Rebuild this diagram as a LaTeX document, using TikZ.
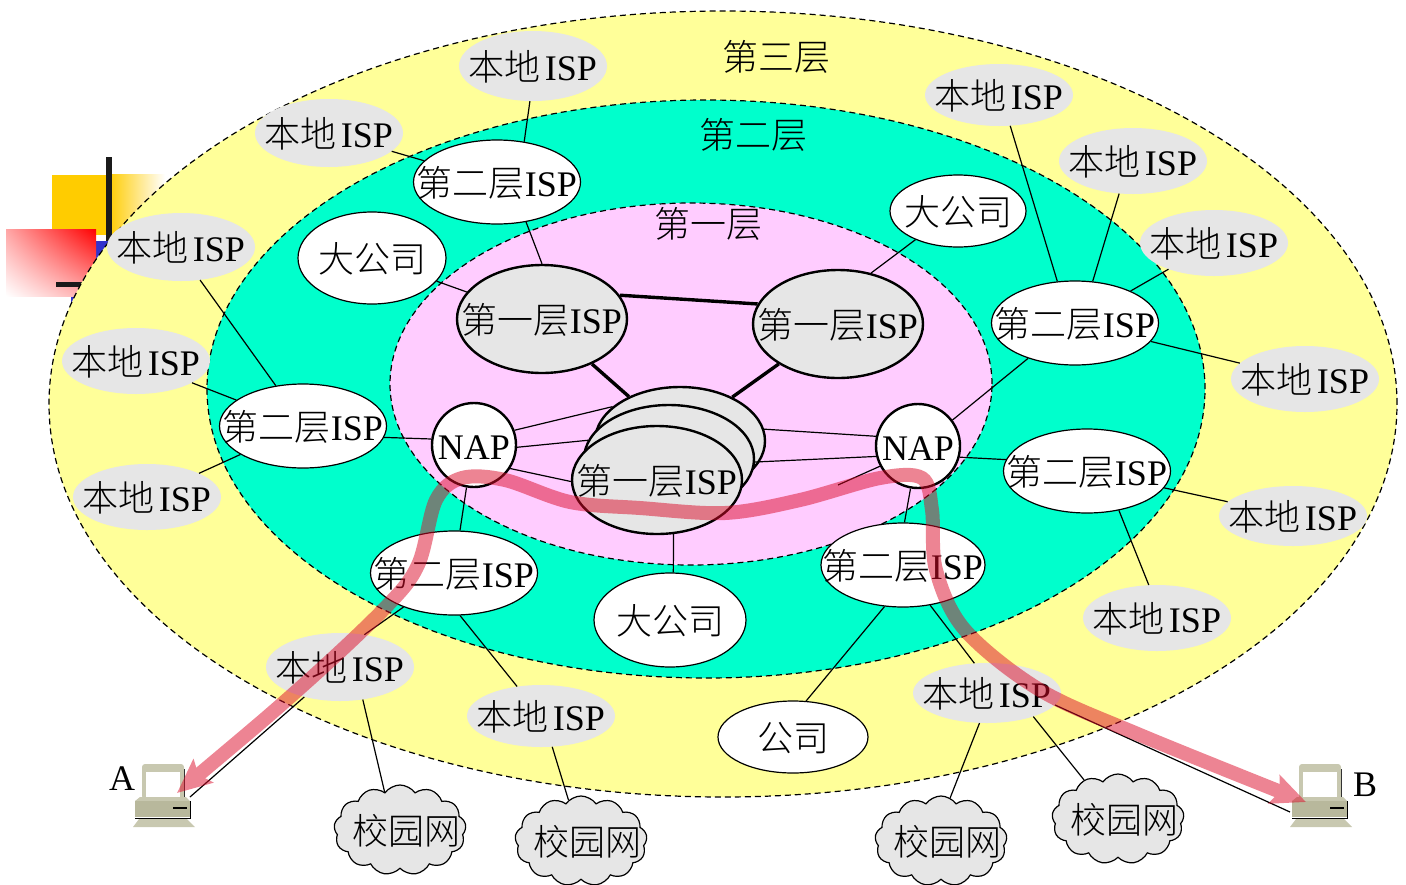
\documentclass[tikz,border=0pt]{standalone}
\usepackage{fontspec}
\setmainfont{Liberation Serif}
\newfontfamily\cjk[UprightFont=* Light]{Noto Sans CJK SC}
\usetikzlibrary{
	shapes.geometric,
	shapes.symbols,
	shadings,
	arrows.meta,
	positioning
}
\newcommand{\zh}[1]{{\cjk #1}}
% text that does not widen its shape
\newcommand{\snug}[1]{\raisebox{-.40em}[0pt][0pt]{\makebox[0pt]{#1}}}
\newcommand{\localisp}{\snug{\zh{本地}\hspace{4pt}ISP}}
\newcommand{\tiertwo}{\snug{\zh{第二层}ISP}}
\newcommand{\tierone}{\snug{\zh{第一层}ISP}}
\newcommand{\campus}{\snug{\hspace{12pt}\zh{校园网}}}
\definecolor{band3}{HTML}{FFFF99}
\definecolor{band2}{HTML}{00FFCC}
\definecolor{band1}{HTML}{FFCCFF}
\definecolor{soft}{HTML}{E6E6E6}
\definecolor{gold}{HTML}{FFCC00}
\definecolor{deco}{HTML}{3333CC}
\definecolor{ink}{HTML}{1A1A1A}
\definecolor{pcbody}{HTML}{B8B89C}
\definecolor{pclight}{HTML}{C8C8B0}
\definecolor{routered}{HTML}{DC0A28}
\tikzset{
	pics/pcbox/.style={code={
		\fill[pclight, rounded corners=3pt] (-21,-33) rectangle (21,2);
		\fill[white] (-17,-25) rectangle (17,0);
		\draw[black!80, line width=1pt] (21,-28) -- (21,0);
		\fill[pclight] (-23,0) -- (23,0) -- (27,4) -- (-28,4) -- cycle;
		\fill[pcbody] (-28,4) rectangle (27,20);
		\draw[black, line width=1pt] (-28,21) -- (27,21) -- (27,4);
		\fill[black] (10,10) rectangle (24,12);
		\fill[pclight] (-24,22) -- (24,22) -- (32,30) -- (-30,30) -- cycle;
		\coordinate (-right) at (27,0);
		\coordinate (-left) at (-30,15);
	}}
}
\begin{document}
\begin{tikzpicture}[x=1pt, y=-1pt, font=\fontsize{36}{40}\selectfont,
	band/.style={draw, dash pattern=on 6pt off 4pt, ellipse, inner sep=0pt, line width=1.2pt},
	locisp/.style={ellipse, fill=soft, inner sep=0pt, minimum width=148, minimum height=66},
	secisp/.style={ellipse, draw, fill=white, inner sep=0pt, line width=1.2pt, minimum width=167, minimum height=84},
	topisp/.style={ellipse, draw, fill=soft, inner sep=0pt, line width=2.4pt, minimum width=170, minimum height=108},
	firm/.style={ellipse, draw, fill=white, inner sep=0pt, line width=1.2pt},
	nap/.style={circle, draw, fill=white, inner sep=0pt, line width=2.4pt, minimum size=84},
	campusnet/.style={cloud, draw, fill=soft, inner sep=0pt, line width=1.2pt, cloud puffs=13, cloud puff arc=110, aspect=1.45, minimum width=132, minimum height=90},
	link/.style={line width=1.2pt},
	trunk/.style={line width=3.4pt},
	route/.style={routered, line width=14pt, {Stealth[length=34pt, width=30pt, inset=6pt]}-{Stealth[length=34pt, width=30pt, inset=6pt]}}]
	\useasboundingbox (0,0) rectangle (1406,884);
%
	\fill[gold] (52,175) rectangle (108,235);
	\shade[left color=gold, right color=white] (108,174) rectangle (165,235);
	\fill[deco] (71,241) rectangle (108,305);
	\fill[ink] (106,157) rectangle (112,241);
	\shade[upper right=red, lower left=white, upper left=red!35, lower right=red!35] (6,229) rectangle (96,296);
	\fill[ink] (56,282) rectangle (82,287);
%
	\node[band, fill=band3, minimum width=1348, minimum height=786] (Band3) at (723,404) {};
	\node[band, fill=band2, minimum width=998, minimum height=578] (Band2) at (706,389) {};
	\node[band, fill=band1, minimum width=602, minimum height=362] (Band1) at (691,384) {};
	\node (Band3lab) at (776,57) {\zh{第三层}};
	\node (Band2lab) at (753,135) {\zh{第二层}};
	\node (Band1lab) at (708,224) {\zh{第一层}};
%
	\node[topisp] (Ta) at (542,319) {\tierone};
	\node[topisp] (Tb) at (838,324) {\tierone};
	\node[topisp] (Tc3) at (680,441) {};
	\node[topisp] (Tc2) at (669,459) {};
	\node[topisp] (Tc1) at (657,480) {\tierone};
	\node[nap] (Na) at (474,445) {\snug{NAP}};
	\node[nap] (Nb) at (918,446) {\snug{NAP}};
%
	\node[secisp] (Sa) at (497,182) {\tiertwo};
	\node[secisp] (Sb) at (1075,323) {\tiertwo};
	\node[secisp] (Sc) at (303,426) {\tiertwo};
	\node[secisp] (Sd) at (1087,471) {\tiertwo};
	\node[secisp] (Se) at (454,573) {\tiertwo};
	\node[secisp, minimum width=164] (Sf) at (903,565) {\tiertwo};
%
	\node[firm, minimum width=148, minimum height=92] (Fa) at (372,258) {\snug{\zh{大公司}}};
	\node[firm, minimum width=136, minimum height=72] (Fb) at (958,211) {\snug{\zh{大公司}}};
	\node[firm, minimum width=152, minimum height=94] (Fc) at (670,620) {\snug{\zh{大公司}}};
	\node[firm, minimum width=150, minimum height=72] (Fd) at (793,737) {\snug{\zh{公司}}};
%
	\node[locisp, minimum height=70] (La) at (533,66) {\localisp};
	\node[locisp, minimum height=68] (Lb) at (329,133) {\localisp};
	\node[locisp, minimum height=68] (Lc) at (181,247) {\localisp};
	\node[locisp] (Ld) at (136,361) {\localisp};
	\node[locisp] (Le) at (147,497) {\localisp};
	\node[locisp, minimum height=62] (Lf) at (999,95) {\localisp};
	\node[locisp] (Lg) at (1133,161) {\localisp};
	\node[locisp] (Lh) at (1214,243) {\localisp};
	\node[locisp] (Li) at (1305,379) {\localisp};
	\node[locisp, minimum height=60] (Lj) at (1293,516) {\localisp};
	\node[locisp] (Lk) at (1157,618) {\localisp};
	\node[locisp, minimum height=60] (Ll) at (987,693) {\localisp};
	\node[locisp, minimum height=62] (Lm) at (541,716) {\localisp};
	\node[locisp, minimum height=68] (Ln) at (340,667) {\localisp};
%
	\node[campusnet] (Ca) at (400,830) {\campus};
	\node[campusnet] (Cb) at (581,841) {\campus};
	\node[campusnet] (Cc) at (941,841) {\campus};
	\node[campusnet] (Cd) at (1118,819) {\campus};
%
	\pic (PcA) at (163,797) {pcbox};
	\pic (PcB) at (1320,797) {pcbox};
	\node (PcAlab) at (122,779) {A};
	\node (PcBlab) at (1365,785) {B};
%
	\draw[trunk] (Ta.17) -- (Tb.166);
	\draw[trunk] (Ta.-42) -- (Tc3.139);
	\draw[trunk] (Tb.-146) -- (Tc3.40);
%
	\draw[link] (Na.20) -- (Tc3.153);
	\draw[link] (Na.-3) -- (Tc2.167);
	\draw[link] (Na.-33) -- (Tc1.181);
	\draw[link] (Nb.167) -- (Tc3.8);
	\draw[link] (Nb.194) -- (Tc2.-2);
	\coordinate (Nbstub) at (838,485);
	\draw[link] (Nb.208) -- (Nbstub);
	\draw[link] (Sc.-8) -- (Na.172);
	\draw[link] (Na.-100) -- (Se.82);
	\draw[link] (Nb.-100) -- (Sf.88);
	\draw[link] (Nb.37) -- (Sb.-143);
	\draw[link] (Nb.-15) -- (Sd.172);
	\draw[link] (Tc1.-73) -- (Fc.86);
	\draw[link] (Fa) -- (Ta);
	\draw[link] (Fb.214) -- (Tb.57);
	\draw[link] (Sa.-54) -- (Ta.90);
%
	\draw[link] (La.-95) -- (Sa.56);
	\draw[link] (Lb) -- (Sa);
	\draw[link] (Lc.-60) -- (Sc.124);
	\draw[link] (Ld) -- (Sc);
	\draw[link] (Le) -- (Sc);
	\draw[link] (Lf.-70) -- (Sb.113);
	\draw[link] (Lg.-113) -- (Sb.67);
	\draw[link] (Lh) -- (Sb);
	\draw[link] (Li) -- (Sb);
	\draw[link] (Lj) -- (Sd);
	\draw[link] (Lk.104) -- (Sd.-51);
	\draw[link] (Se.-146) -- (Ln.53);
	\draw[link] (Se.-82) -- (Lm.129);
	\draw[link] (Sf.-114) -- (Fd.70);
	\draw[link] (Sf.-56) -- (Ll.113);
%
	\draw[link] (Ln.-55) -- (Ca.112);
	\draw[link] (Lm.-70) -- (Cb);
	\draw[link] (Ll.-104) -- (Cc.78);
	\draw[link] (Ll.-27) -- (Cd.131);
	\draw[link] (Ln.-140) -- (PcA-right);
	\draw[link] (Ll.-10) -- (PcB-left);
%
	\coordinate (RouteA) at (177,793);
	\coordinate (RouteB) at (1306,802);
	\begin{scope}[transparency group, opacity=.5]
		\draw[route] plot[smooth, tension=.55] coordinates {(RouteA) (300,688) (385,608) (418,565) (436,500) (462,478) (505,480) (570,502) (640,508) (725,513) (800,500) (880,478) (922,478) (932,510) (936,570) (965,630) (1040,690) (1140,735) (RouteB)};
	\end{scope}
\end{tikzpicture}
\end{document}
